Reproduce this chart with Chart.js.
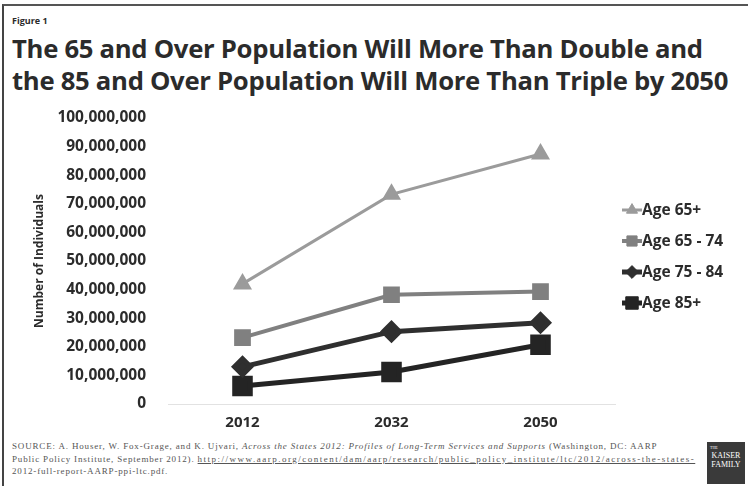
<!DOCTYPE html>
<html>
<head>
<meta charset="utf-8">
<script src="https://cdn.jsdelivr.net/npm/chart.js@4.4.1/dist/chart.umd.min.js"></script>
<style>
  html, body { margin: 0; padding: 0; background: #fff; }
  #frame {
    position: relative; width: 745px; height: 481px; margin-left: 2px; margin-top: 4px;
    border-top: 2px solid #555; border-left: 2px solid #444;
    font-family: "Open Sans", "DejaVu Sans", sans-serif; color: #2b2b2b; overflow: hidden;
  }
  #fig { position: absolute; left: 8px; top: 8px; font-size: 9px; font-weight: 700; }
  #title { position: absolute; left: 8px; top: 27px; font-size: 25.7px; font-weight: 700; line-height: 32px; letter-spacing: -0.3px; white-space: nowrap; }
  #wrap { position: absolute; left: -2px; top: 96px; width: 748px; height: 334px; }
  #source { position: absolute; left: 8px; top: 434px; width: 700px; font-size: 9px; letter-spacing: 0.83px; line-height: 12.5px; color: #555; font-family: "Liberation Serif", serif; white-space: nowrap; }
  #source u { color: #555; letter-spacing: 1.5px; }
  #logo { position: absolute; z-index: 2; left: 703px; top: 436px; width: 38px; height: 42px; background: #3a3a3a; color: #fff;
    font-family: "Liberation Serif", serif; font-size: 8px; line-height: 9px; text-align: center; padding-top: 3px; box-sizing: border-box; }
  #logo small { display: block; font-size: 4px; line-height: 6px; text-align: left; padding-left: 3px; }
</style>
</head>
<body>
<div id="frame">
  <div id="fig">Figure 1</div>
  <div id="title">The 65 and Over Population Will More Than Double and<br>the 85 and Over Population Will More Than Triple by 2050</div>
  <div id="wrap"><canvas id="grafica" width="748" height="334"></canvas></div>
  <div id="source">SOURCE: A. Houser, W. Fox-Grage, and K. Ujvari, <i>Across the States 2012: Profiles of Long-Term Services and Supports</i> (Washington, DC: AARP<br>Public Policy Institute, September 2012). <u>http://www.aarp.org/content/dam/aarp/research/public_policy_institute/ltc/2012/across-the-states-</u><br>2012-full-report-AARP-ppi-ltc.pdf.</div>
  <div id="logo"><small>THE</small>KAISER<br>FAMILY</div>
</div>
<script>
const anios = ["2012", "2032", "2050"];
const edad65mas = [42000000, 73300000, 87400000];
const edad65a74 = [23200000, 38200000, 39300000];
const edad75a84 = [13000000, 25300000, 28400000];
const edad85mas = [6300000, 11200000, 20700000];
const ticksY = [0, 10000000, 20000000, 30000000, 40000000, 50000000, 60000000, 70000000, 80000000, 90000000, 100000000];

const fuenteBold = { family: "'Open Sans', 'DejaVu Sans', sans-serif", weight: "bold" };

// leyenda a la derecha con linea + marcador, como en Excel
const leyendaDerecha = {
  id: "leyendaDerecha",
  afterDraw(chart) {
    const ctx = chart.ctx;
    const x0 = 620, y0 = 108, paso = 31;
    chart.data.datasets.forEach((ds, i) => {
      const y = y0 + i * paso;
      ctx.save();
      ctx.strokeStyle = ds.borderColor;
      ctx.lineWidth = ds.borderWidth;
      ctx.beginPath();
      ctx.moveTo(x0, y);
      ctx.lineTo(x0 + 20, y);
      ctx.stroke();
      ctx.fillStyle = ds.pointBackgroundColor;
      ctx.strokeStyle = ds.pointBackgroundColor;
      ctx.lineWidth = 1;
      Chart.helpers.drawPoint(ctx, { pointStyle: ds.pointStyle, radius: ds.pointRadius * 0.8, borderWidth: 1, rotation: 0 }, x0 + 10, y);
      ctx.fillStyle = "#2b2b2b";
      ctx.font = "bold 15.5px 'Open Sans', 'DejaVu Sans', sans-serif";
      ctx.textBaseline = "middle";
      ctx.fillText(ds.label, x0 + 20, y + 1);
      ctx.restore();
    });
  }
};

function serie(label, data, color, ancho, estilo, radio) {
  return {
    label, data,
    borderColor: color, backgroundColor: color,
    pointBackgroundColor: color, pointBorderColor: color,
    borderWidth: ancho, pointStyle: estilo, pointRadius: radio, pointHoverRadius: radio,
    tension: 0
  };
}

new Chart(document.getElementById("grafica"), {
  type: "line",
  data: {
    labels: anios,
    datasets: [
      serie("Age 65+", edad65mas, "#9b9b9b", 3, "triangle", 8),
      serie("Age 65 - 74", edad65a74, "#808080", 4, "rect", 9),
      serie("Age 75 - 84", edad75a84, "#2f2f2f", 5, "rectRot", 8),
      serie("Age 85+", edad85mas, "#242424", 5, "rect", 11)
    ]
  },
  options: {
    responsive: false,
    animation: false,
    layout: { padding: { left: 30, right: 135, top: 8, bottom: 0 } },
    plugins: { legend: { display: false }, tooltip: { enabled: false } },
    scales: {
      x: {
        offset: true,
        grid: { display: false, drawTicks: false },
        border: { color: "#e2e2e2", width: 1 },
        ticks: { color: "#2b2b2b", font: { ...fuenteBold, size: 15 }, padding: 10 },
        afterFit: s => { s.height = 32; }
      },
      y: {
        min: 0, max: 100000000,
        afterBuildTicks: s => { s.ticks = ticksY.map(v => ({ value: v })); },
        // marcas invisibles: solo sirven para separar las etiquetas del area
        grid: { display: false, drawTicks: true, tickLength: 19 },
        border: { display: false },
        ticks: {
          color: "#2b2b2b", font: { ...fuenteBold, size: 15.5 }, padding: 3,
          callback: v => v.toLocaleString("en-US")
        },
        title: { display: true, text: "Number of Individuals", color: "#2b2b2b", font: { ...fuenteBold, size: 12 }, padding: 0 },
        afterFit: s => { s.width = 136; }
      }
    }
  },
  plugins: [leyendaDerecha]
});
</script>
</body>
</html>
